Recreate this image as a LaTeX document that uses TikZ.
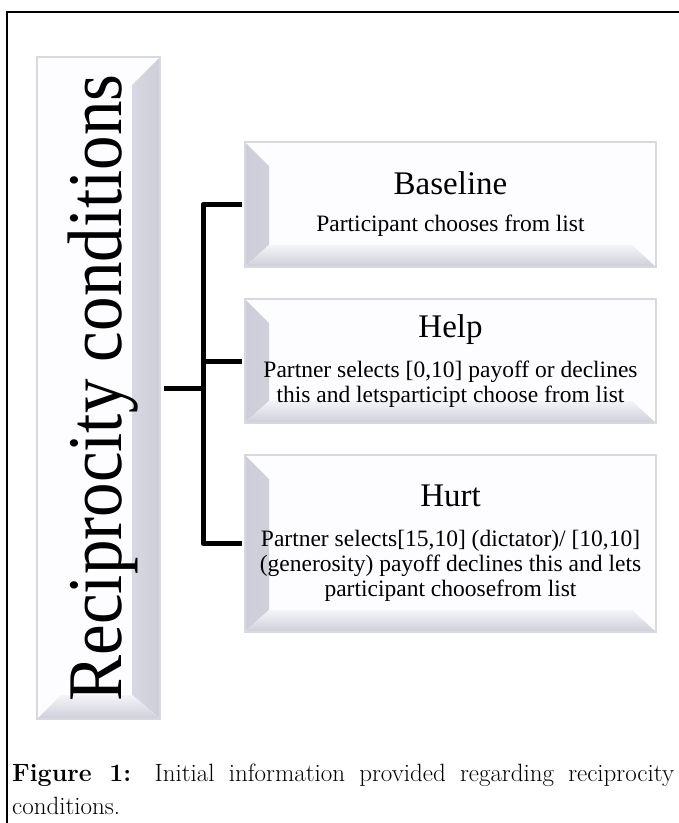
\documentclass[tikz,border=0pt]{standalone}
\usepackage{fontspec}
\newfontfamily\boxfont{Liberation Serif}
\usetikzlibrary{positioning}
\usetikzlibrary{calc}

\definecolor{rimgray}{RGB}{216,217,222}
\definecolor{bevgray}{RGB}{206,206,218}
\definecolor{facewhite}{RGB}{253,253,255}

\tikzset{
    frame/.style={line width=1.5pt, black},
    branch/.style={line width=5pt, black, line join=round},
    condbox/.style={draw=rimgray, line width=2pt, fill=facewhite, minimum width=411pt,
        inner sep=0pt, align=center, font=\boxfont\fontsize{23.5}{25}\selectfont,
        path picture={
            \fill[left color=bevgray, right color=bevgray!10!facewhite]
                (path picture bounding box.north west) -- ++(24pt,-24pt)
                -- ($(path picture bounding box.south west)+(24pt,22pt)$)
                -- (path picture bounding box.south west) -- cycle;
            \fill[top color=bevgray!20!facewhite, bottom color=bevgray]
                (path picture bounding box.south west) -- ++(24pt,22pt)
                -- ($(path picture bounding box.south east)+(-24pt,22pt)$)
                -- (path picture bounding box.south east) -- cycle;
        }},
    titlebox/.style={draw=rimgray, line width=2pt, fill=facewhite, minimum width=123pt,
        minimum height=662pt, inner sep=0pt, font=\boxfont,
        path picture={
            \fill[left color=bevgray!10!facewhite, right color=bevgray]
                (path picture bounding box.north east) -- ++(-28pt,-28pt)
                -- ($(path picture bounding box.south east)+(-28pt,24pt)$)
                -- (path picture bounding box.south east) -- cycle;
            \fill[top color=bevgray!20!facewhite, bottom color=bevgray]
                (path picture bounding box.south west) -- ++(24pt,24pt)
                -- ($(path picture bounding box.south east)+(-28pt,24pt)$)
                -- (path picture bounding box.south east) -- cycle;
        }},
    caption/.style={text width=662pt, align=justify, inner sep=0pt,
        font=\fontsize{25}{33}\selectfont}
}

\begin{document}
\begin{tikzpicture}[x=1pt, y=-1pt]
                    \useasboundingbox (0,0) rectangle (679,823);
                    \clip (0,0) rectangle (679,823);
                    \draw[frame] (7,830) -- (7,12) -- (690,12);

                    \node[titlebox] (title) at (98.5,388) {\hspace{9pt}\rotatebox{90}{\scalebox{1}[1.12]{\fontsize{69}{69}\selectfont Reciprocity conditions}}};

                    \node[condbox, minimum height=125pt] (base) at (450.5,204.5)
                        {{\fontsize{33}{36}\selectfont Baseline}\\[12pt]Participant chooses from list};
                    \node[condbox, minimum height=124pt] (help) [below = 30pt of base]
                        {{\fontsize{33}{36}\selectfont Help}\\[15pt]Partner selects [0,10] payoff or declines\\this and letsparticipt choose from list};
                    \node[condbox, minimum height=177pt] (hurt) [below = 30pt of help]
                        {{\fontsize{33}{36}\selectfont Hurt}\\[15pt]Partner selects[15,10] (dictator)/ [10,10]\\(generosity) payoff declines this and lets\\participant choosefrom list};

                    \coordinate (spine) at (203,388);
                    \draw[branch, shorten >=2pt] (title.east) ++(3pt,0) -- (spine);
                    \draw[branch, shorten <=2pt, shorten >=2pt] (base.west) -| (spine) |- (hurt.west);
                    \draw[branch, shorten <=2pt] (help.west) -- (help.west -| spine);

                    \node[caption, anchor=north west] (cap) at (12,764)
                        {\textbf{Figure 1:} Initial information provided regarding reciprocity\linebreak conditions.};

\end{tikzpicture}
\end{document}
